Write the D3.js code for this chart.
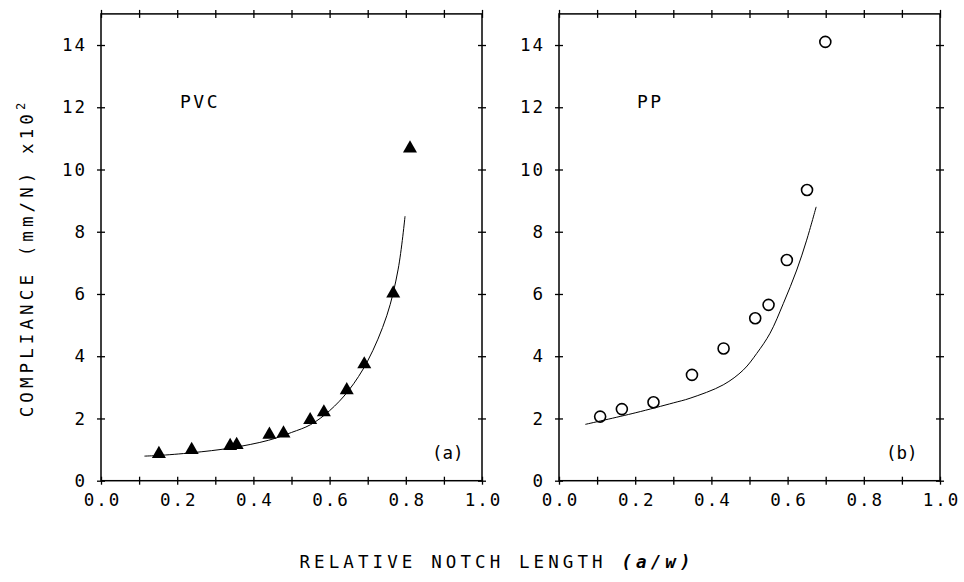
<!DOCTYPE html>
<html>
<head>
<meta charset="utf-8">
<script src="https://cdn.jsdelivr.net/npm/d3@7"></script>
<style>
  body { margin: 0; background: #fff; }
  svg { display: block; }
  text { font-family: "DejaVu Sans Mono", monospace; fill: #000; }
</style>
</head>
<body>
<svg id="chart" width="964" height="582"></svg>
<script>
// PVC (a) measured points and fitted curve
var pvcX = [0.152, 0.238, 0.339, 0.356, 0.442, 0.479, 0.549, 0.585, 0.645, 0.691, 0.767, 0.811]
var pvcY = [0.86, 0.99, 1.12, 1.15, 1.48, 1.52, 1.95, 2.2, 2.91, 3.74, 6.02, 10.68]
var pvcFitX = [0.114, 0.15, 0.24, 0.34, 0.44, 0.5, 0.55, 0.6, 0.65, 0.7, 0.75, 0.78, 0.798]
var pvcFitY = [0.79, 0.81, 0.9, 1.05, 1.3, 1.55, 1.8, 2.25, 2.9, 3.85, 5.3, 6.8, 8.5]

// PP (b) measured points and fitted curve
var ppX = [0.108, 0.165, 0.248, 0.349, 0.432, 0.515, 0.55, 0.598, 0.651, 0.699]
var ppY = [2.06, 2.3, 2.52, 3.4, 4.25, 5.22, 5.65, 7.09, 9.34, 14.1]
var ppFitX = [0.069, 0.2, 0.3, 0.344, 0.431, 0.484, 0.519, 0.554, 0.589, 0.624, 0.65, 0.675]
var ppFitY = [1.81, 2.18, 2.5, 2.65, 3.08, 3.56, 4.09, 4.74, 5.7, 6.77, 7.73, 8.8]

var xMinor = d3.range(0, 1.0001, 0.1)
var xLabels = ["0.0", "0.2", "0.4", "0.6", "0.8", "1.0"]
var yTicks = [0, 2, 4, 6, 8, 10, 12, 14]

var svg = d3.select("#chart")
var plotTop = 13.9, plotBottom = 480.7

var panels = [
  { left: 101, right: 482, xs: pvcX, ys: pvcY, fx: pvcFitX, fy: pvcFitY, marker: "tri", name: "PVC", nameX: 180, tag: "(a)", tagX: 432 },
  { left: 559, right: 940, xs: ppX, ys: ppY, fx: ppFitX, fy: ppFitY, marker: "circ", name: "PP", nameX: 637, tag: "(b)", tagX: 886 }
]

panels.forEach(function(p) {
  var x = d3.scaleLinear().domain([0, 1]).range([p.left, p.right])
  var y = d3.scaleLinear().domain([0, 15]).range([plotBottom, plotTop])
  var g = svg.append("g")

  // frame
  g.append("rect")
    .attr("x", p.left).attr("y", plotTop)
    .attr("width", p.right - p.left).attr("height", plotBottom - plotTop)
    .attr("fill", "none").attr("stroke", "#000").attr("stroke-width", 1.5)

  // bottom axis with labels every 0.2, crossing ticks every 0.1
  var bx = g.append("g").attr("transform", "translate(0," + plotBottom + ")")
    .call(d3.axisBottom(x).tickValues(xMinor).tickSize(4).tickFormat(function(d, i) {
      return i % 2 == 0 ? xLabels[i / 2] : ""
    }))
  var tx = g.append("g").attr("transform", "translate(0," + plotTop + ")")
    .call(d3.axisTop(x).tickValues(xMinor).tickSize(4).tickFormat(""))
  var ly = g.append("g").attr("transform", "translate(" + p.left + ",0)")
    .call(d3.axisLeft(y).tickValues(yTicks).tickSize(4).tickFormat(d3.format("d")))
  var ry = g.append("g").attr("transform", "translate(" + p.right + ",0)")
    .call(d3.axisRight(y).tickValues(yTicks).tickSize(4).tickFormat(""))

  ;[bx, tx, ly, ry].forEach(function(a) {
    a.attr("font-family", null).attr("font-size", null)
    a.select(".domain").remove()
    a.selectAll("line").attr("stroke", "#000").attr("stroke-width", 1.3)
    a.selectAll("text").style("font-size", "17.5px").style("letter-spacing", "2px")
  })
  bx.selectAll(".tick line").attr("y1", -4).attr("y2", 4)
  tx.selectAll(".tick line").attr("y1", -4).attr("y2", 4)
  ly.selectAll(".tick line").attr("x1", -4).attr("x2", 4)
  ry.selectAll(".tick line").attr("x1", -4).attr("x2", 4)
  bx.selectAll("text").attr("y", 13).attr("dx", "1px")
  ly.selectAll("text").attr("x", -14)

  // fitted curve
  var fit = p.fx.map(function(d, i) { return [d, p.fy[i]] })
  g.append("path")
    .datum(fit)
    .attr("fill", "none").attr("stroke", "#000").attr("stroke-width", 1)
    .attr("d", d3.line().x(function(d) { return x(d[0]) }).y(function(d) { return y(d[1]) }).curve(d3.curveCatmullRom))

  // measured points
  var pts = p.xs.map(function(d, i) { return [d, p.ys[i]] })
  if (p.marker == "tri") {
    g.selectAll(".pt").data(pts).enter().append("path")
      .attr("transform", function(d) { return "translate(" + x(d[0]) + "," + y(d[1]) + ")" })
      .attr("d", d3.symbol().type(d3.symbolTriangle).size(85))
      .attr("fill", "#000")
  } else {
    g.selectAll(".pt").data(pts).enter().append("circle")
      .attr("cx", function(d) { return x(d[0]) })
      .attr("cy", function(d) { return y(d[1]) })
      .attr("r", 5.5)
      .attr("fill", "none").attr("stroke", "#000").attr("stroke-width", 1.6)
  }

  g.append("text").attr("x", p.nameX).attr("y", 108)
    .style("font-size", "18px").style("letter-spacing", "2.5px").text(p.name)
  g.append("text").attr("x", p.tagX).attr("y", 459)
    .style("font-size", "17.5px").style("letter-spacing", "0px").text(p.tag)
})

// axis titles
var xt = svg.append("text")
  .attr("x", 497).attr("y", 568)
  .attr("text-anchor", "middle")
  .style("font-size", "17.5px").style("letter-spacing", "4.1px")
xt.append("tspan").text("RELATIVE NOTCH LENGTH ")
xt.append("tspan").style("font-style", "italic").style("font-weight", "bold").text("(a/w)")

var yt = svg.append("text")
  .attr("transform", "translate(33,258) rotate(-90)")
  .attr("text-anchor", "middle")
  .style("font-size", "17.5px").style("letter-spacing", "4.1px")
yt.append("tspan").text("COMPLIANCE  (mm/N) x10")
yt.append("tspan").attr("dy", -8).style("font-size", "12px").text("2")
</script>
</body>
</html>
